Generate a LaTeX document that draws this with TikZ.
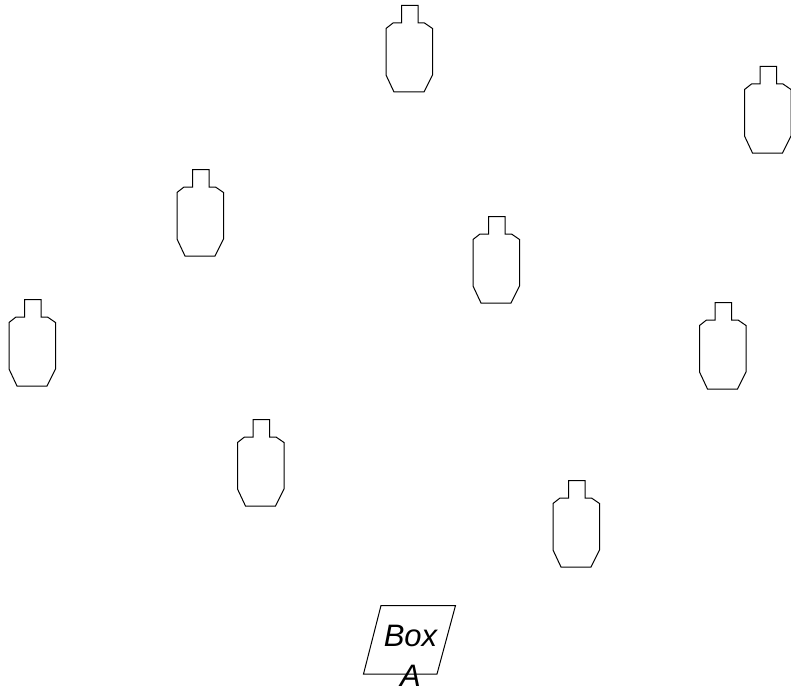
\documentclass[tikz,border=0pt]{standalone}
\usepackage{fontspec}
\setmainfont{Liberation Sans}
\tikzset{
  outline/.style={draw=black,line width=1pt,line join=miter},
  target/.pic={
    \draw[outline] (15.5,0) -- (32,0) -- (32,17.5) -- (38.5,17.5) -- (46.5,23) -- (46.5,69.5)
      -- (38,86.5) -- (8,86.5) -- (0,69.5) -- (0,23) -- (7,17.5) -- (15.5,17.5) -- cycle;
  },
  boxlabel/.style={align=center,inner sep=0pt,font=\fontsize{31}{39.5}\selectfont\itshape}
}
\begin{document}
\begin{tikzpicture}[x=1pt,y=-1pt]
\useasboundingbox (0,0) rectangle (791,690);
\pic at (386,5.5) {target};
\pic at (744.5,66.5) {target};
\pic at (177,169.5) {target};
\pic at (473,216.5) {target};
\pic at (9,299.5) {target};
\pic at (699.5,302.5) {target};
\pic at (237.5,419.5) {target};
\pic at (553,480.5) {target};
\coordinate (p1) at (381,605.5);
\coordinate (p2) at (455.5,605.5);
\coordinate (p3) at (437,674);
\coordinate (p4) at (363.5,674);
\draw[outline] (p1) -- (p2) -- (p3) -- (p4) -- cycle;
\node[boxlabel,anchor=base] (boxa) at (410.5,686) {Box\\A};
\end{tikzpicture}
\end{document}
